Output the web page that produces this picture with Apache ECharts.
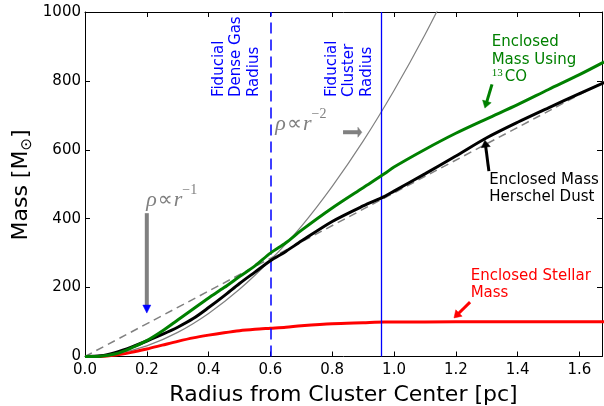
<!DOCTYPE html>
<html><head><meta charset="utf-8">
<script src="https://cdn.jsdelivr.net/npm/echarts@6/dist/echarts.min.js"></script>
<style>html,body{margin:0;padding:0;background:#fff}#c{width:604px;height:406px}</style>
</head><body><div id="c"></div>
<script>
// ---- data ----
const herschelRadius = [0, 0.05, 0.1, 0.15, 0.2, 0.25, 0.3, 0.35, 0.4, 0.45, 0.5, 0.55, 0.6, 0.65, 0.7, 0.8, 0.9, 0.97, 1.0, 1.1, 1.2, 1.3, 1.4, 1.5, 1.6, 1.68];
const herschelMass   = [0, 2, 12, 27, 45, 64, 85, 110, 142, 176, 212, 245, 278, 305, 335, 392, 437, 465, 480, 530, 582, 635, 680, 722, 763, 795];
const coRadius = [0, 0.05, 0.1, 0.15, 0.2, 0.25, 0.3, 0.35, 0.4, 0.45, 0.5, 0.55, 0.6, 0.65, 0.7, 0.8, 0.9, 0.97, 1.0, 1.1, 1.2, 1.3, 1.4, 1.5, 1.6, 1.68];
const coMass   = [0, 1, 8, 25, 46, 74, 106, 138, 170, 200, 232, 263, 300, 330, 366, 431, 490, 531, 550, 601, 648, 690, 731, 775, 818, 855];
const stellarRadius = [0, 0.05, 0.1, 0.15, 0.2, 0.25, 0.3, 0.35, 0.4, 0.45, 0.5, 0.55, 0.6, 0.65, 0.7, 0.8, 0.9, 0.97, 1.0, 1.2, 1.4, 1.68];
const stellarMass   = [0, 0, 4, 12, 22, 33, 44, 54, 62, 69, 75, 79, 82, 85, 89, 95, 98, 100, 100, 101, 101, 101];
const steepModelRadius = [0, 0.1, 0.2, 0.3, 0.4, 0.5, 0.6, 0.7, 0.8, 0.9, 1.0, 1.1, 1.2];
const steepModelMass   = [0, 8, 31, 70, 125, 195, 280, 378, 494, 625, 772, 934, 1111];
const linearModelRadius = [0, 1.68];
const linearModelMass   = [0, 798];
const fiducialDenseGasRadius = 0.6;
const fiducialClusterRadius = 0.965;
const xTicks = [0, 0.2, 0.4, 0.6, 0.8, 1.0, 1.2, 1.4, 1.6];
const yTicks = [0, 200, 400, 600, 800, 1000];
const X_MAX = 1.673, Y_MAX = 1000;

const FONT = 'DejaVu Sans';
const chart = echarts.init(document.getElementById('c'), null, {renderer: 'canvas'});
const pairs = (xs, ys) => xs.map((x, i) => [x, ys[i]]);
const isTick = (v, ticks) => ticks.some(t => Math.abs(t - v) < 1e-6);

function axisX(pos, labels) {
  return {
    type: 'value', position: pos, min: 0, max: X_MAX, interval: 0.2,
    axisLine: {onZero: false, lineStyle: {color: '#000', width: 1}},
    axisTick: {inside: true, length: 5, lineStyle: {color: '#000', width: 1}},
    axisLabel: {show: labels, formatter: v => isTick(v, xTicks) ? v.toFixed(1) : '',
      fontFamily: FONT, fontSize: 15, color: '#000', margin: 6, showMaxLabel: false},
    splitLine: {show: false}
  };
}
function axisY(pos, labels) {
  return {
    type: 'value', position: pos, min: 0, max: Y_MAX, interval: 200,
    axisLine: {onZero: false, lineStyle: {color: '#000', width: 1}},
    axisTick: {inside: true, length: 5, lineStyle: {color: '#000', width: 1}},
    axisLabel: {show: labels, formatter: v => isTick(v, yTicks) ? String(v) : '',
      fontFamily: FONT, fontSize: 15, color: '#000', margin: 4},
    splitLine: {show: false}
  };
}
function lineSeries(data, color, width, type, z) {
  return {type: 'line', data, smooth: 0.3, symbol: 'none', clip: true, z,
    lineStyle: {color, width, type}, emphasis: {disabled: true}, silent: true};
}

chart.setOption({
  animation: false,
  grid: {left: 85, top: 12, width: 517, height: 344.5},
  xAxis: [axisX('bottom', true), axisX('top', false)],
  yAxis: [axisY('left', true), axisY('right', false)],
  series: [
    lineSeries(pairs(linearModelRadius, linearModelMass), '#808080', 1.5, [8, 5], 2),
    lineSeries(pairs(steepModelRadius, steepModelMass), '#808080', 1.2, 'solid', 3),
    lineSeries(pairs(stellarRadius, stellarMass), '#ff0000', 3, 'solid', 4),
    lineSeries(pairs(herschelRadius, herschelMass), '#000000', 3, 'solid', 5),
    lineSeries(pairs(coRadius, coMass), '#008000', 3, 'solid', 6),
    {type: 'line', data: [], z: 7, silent: true,
      markLine: {symbol: 'none', silent: true, label: {show: false}, animation: false,
        data: [
          {xAxis: fiducialDenseGasRadius, lineStyle: {color: '#0000ff', width: 1.5, type: [11, 6]}},
          {xAxis: fiducialClusterRadius, lineStyle: {color: '#0000ff', width: 1.3, type: 'solid'}}
        ]}}
  ]
});

// ---- annotations (positions in data coordinates) ----
const P = (x, y) => chart.convertToPixel({gridIndex: 0}, [x, y]);
function arrow(a, b, color, headColor, w, hl, hw) {
  const p0 = P(a[0], a[1]), p1 = P(b[0], b[1]);
  const dx = p1[0] - p0[0], dy = p1[1] - p0[1], L = Math.hypot(dx, dy);
  const ux = dx / L, uy = dy / L, nx = -uy, ny = ux;
  const bx = p1[0] - ux * hl, by = p1[1] - uy * hl;
  return [
    {type: 'line', z: 20, shape: {x1: p0[0], y1: p0[1], x2: bx + ux, y2: by + uy}, style: {stroke: color, lineWidth: w}},
    {type: 'polygon', z: 21, shape: {points: [[p1[0], p1[1]], [bx + nx * hw, by + ny * hw], [bx - nx * hw, by - ny * hw]]},
      style: {fill: headColor, stroke: headColor, lineWidth: 0.5}}
  ];
}
function text(pt, str, opts) {
  const p = P(pt[0], pt[1]);
  return Object.assign({type: 'text', x: p[0], y: p[1], z: 30,
    style: Object.assign({text: str, fontFamily: FONT, fontSize: 15}, opts.style)}, opts.extra || {});
}
const mathRich = {
  v: {fontFamily: 'Liberation Serif', fontStyle: 'italic', fontSize: 22, fill: '#808080', verticalAlign: 'bottom', lineHeight: 28},
  p: {fontFamily: 'DejaVu Sans', fontSize: 21, fill: '#808080', verticalAlign: 'bottom', lineHeight: 27, padding: [0, 1, 0, 1]},
  e: {fontFamily: 'Liberation Serif', fontSize: 14, fill: '#808080', verticalAlign: 'top', lineHeight: 14}
};
const graphics = [].concat(
  text([0.405, 753], 'Fiducial\nDense Gas\nRadius', {style: {fill: '#0000ff', align: 'left', verticalAlign: 'top', lineHeight: 17.5}, extra: {rotation: Math.PI / 2}}),
  text([0.771, 753], 'Fiducial\nCluster\nRadius', {style: {fill: '#0000ff', align: 'left', verticalAlign: 'top', lineHeight: 17.5}, extra: {rotation: Math.PI / 2}}),
  text([0.198, 462], '{v|ρ}{p|∝}{v|r}{e|−1}', {style: {align: 'left', verticalAlign: 'middle', rich: mathRich}}),
  text([0.616, 683], '{v|ρ}{p|∝}{v|r}{e|−2}', {style: {align: 'left', verticalAlign: 'middle', rich: mathRich}}),
  text([1.316, 941], '{n|Enclosed}\n{n|Mass Using}\n{s|13}{n|CO}', {style: {align: 'left', verticalAlign: 'top', fill: '#008000',
    rich: {n: {fontFamily: FONT, fontSize: 15, fill: '#008000', lineHeight: 17.5, verticalAlign: 'bottom'},
           s: {fontFamily: 'Liberation Serif', fontSize: 11, fill: '#008000', lineHeight: 17.5, verticalAlign: 'top', padding: [0, 2, 0, 0]}}}}),
  text([1.308, 538], 'Enclosed Mass\nHerschel Dust', {style: {align: 'left', verticalAlign: 'top', fill: '#000', lineHeight: 17.5}}),
  text([1.248, 260], 'Enclosed Stellar\nMass', {style: {align: 'left', verticalAlign: 'top', fill: '#ff0000', lineHeight: 17.5}}),
  arrow([0.2, 416], [0.2, 126], '#808080', '#0000ff', 4, 8, 4),
  arrow([0.835, 651], [0.896, 651], '#808080', '#808080', 4, 4, 5),
  arrow([1.317, 790], [1.294, 721], '#008000', '#008000', 3, 7, 4.5),
  arrow([1.307, 538], [1.294, 628], '#000000', '#000000', 3, 7, 4.5),
  arrow([1.246, 158], [1.194, 112], '#ff0000', '#ff0000', 3, 7, 4.5),
  [{type: 'text', x: 343.5, y: 395, z: 30, style: {text: 'Radius from Cluster Center [pc]', fontFamily: FONT, fontSize: 22, fill: '#000', align: 'center', verticalAlign: 'middle'}},
   {type: 'text', x: 21, y: 185, z: 30, rotation: Math.PI / 2, style: {text: '{a|Mass [M}{s|⊙}{a|]}', align: 'center', verticalAlign: 'middle',
     rich: {a: {fontFamily: FONT, fontSize: 22, fill: '#000', lineHeight: 28, verticalAlign: 'middle'},
            s: {fontFamily: FONT, fontSize: 15, fill: '#000', lineHeight: 28, verticalAlign: 'bottom'}}}}]
);
chart.setOption({graphic: graphics});
</script></body></html>
